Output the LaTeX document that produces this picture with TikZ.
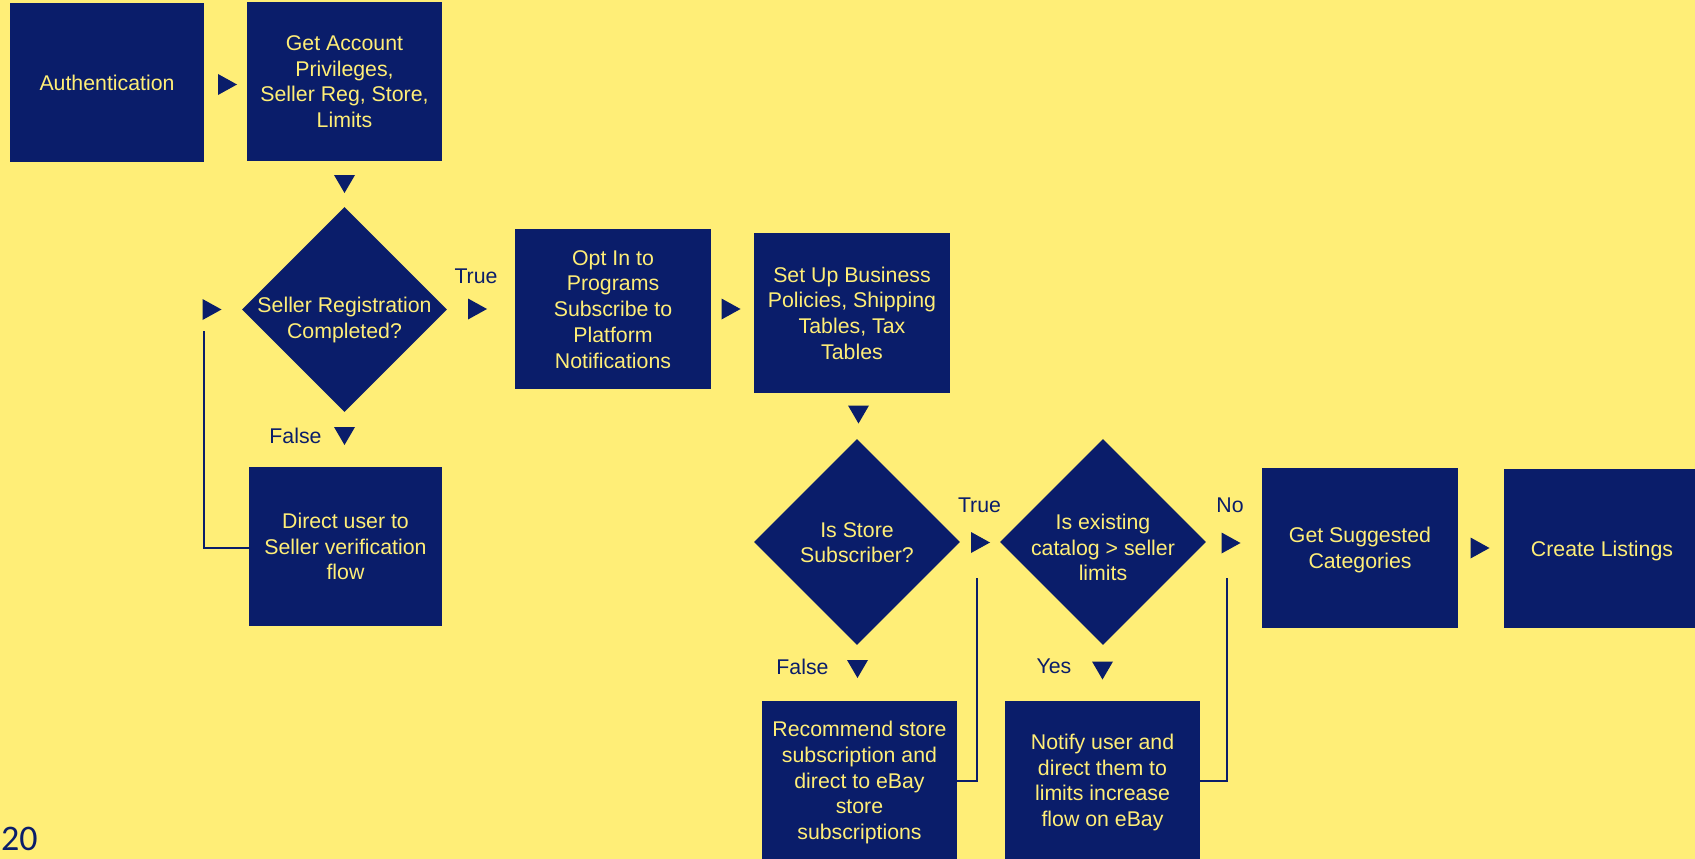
\documentclass[tikz,border=0pt]{standalone}
\usepackage{fontspec}
\setmainfont{Liberation Sans}
\newfontfamily\numfont{Carlito}
\usetikzlibrary{shapes.geometric}
\definecolor{navy}{RGB}{10,29,106}
\definecolor{bgy}{RGB}{255,238,119}
\newcommand{\bodyfont}{\fontsize{21.3}{25.7}\selectfont}
% uniform line box: cap-height/baseline block centred on the node
\newcommand{\T}[1]{\rule{0pt}{21.25pt}#1\rule[-6pt]{0pt}{6pt}}
\begin{document}
\begin{tikzpicture}[x=1pt,y=-1pt,
  box/.style={rectangle, fill=navy, text=bgy, inner sep=0pt, align=center, font=\bodyfont},
  dia/.style={diamond, fill=navy, inner sep=0pt, minimum width=205pt, minimum height=205pt},
  dtext/.style={text=bgy, align=center, font=\bodyfont, inner sep=0pt},
  lab/.style={text=navy, font=\bodyfont, inner sep=0pt},
  conn/.style={draw=navy, line width=2pt},
  rtri/.pic={\fill[navy] (-9.5,-10.5) -- (9.5,0) -- (-9.5,10.5) -- cycle;},
  dtri/.pic={\fill[navy] (-10.5,-9) -- (10.5,-9) -- (0,9) -- cycle;}
]
\useasboundingbox (0,0) rectangle (1695,859);
\fill[bgy] (0,0) rectangle (1695,859);
\clip (0,0) rectangle (1695,859);

% boxes
\node[box, minimum width=194pt, minimum height=159pt] (auth) at (107,82.5) {\T{Authentication}};
\node[box, minimum width=195pt, minimum height=159pt] (acct) at (344.5,81.5) {\T{Get Account\\Privileges,\\Seller Reg, Store,\\Limits}};
\node[dia, label={[dtext, yshift=-8.5pt]center:{\T{Seller Registration\\Completed?}}}] (d1) at (344.5,309.5) {};
\node[box, minimum width=196pt, minimum height=160pt] (opt) at (613,309) {\T{Opt In to\\Programs\\Subscribe to\\Platform\\Notifications}};
\node[box, minimum width=196pt, minimum height=160pt] (setup) at (852,313) {\T{Set Up Business\\Policies, Shipping\\Tables, Tax\\Tables}};
\node[box, minimum width=193pt, minimum height=159pt] (direct) at (345.5,546.5) {\T{Direct user to\\Seller verification\\flow}};
\node[dia, minimum width=206pt, minimum height=206pt, label={[dtext, yshift=-0.5pt]center:{\T{Is Store\\Subscriber?}}}] (d2) at (857,542) {};
\node[dia, minimum width=206pt, minimum height=206pt, label={[dtext, yshift=-5.5pt]center:{\T{Is existing\\catalog > seller\\limits}}}] (d3) at (1103,542) {};
\node[box, minimum width=196pt, minimum height=160pt] (sugg) at (1360,548) {\T{Get Suggested\\Categories}};
\node[box, minimum width=196pt, minimum height=159pt] (create) at (1602,548.5) {\T{Create Listings}};
\node[box, minimum width=195pt, minimum height=159pt] (rec) at (859.5,780.5) {\T{Recommend store\\subscription and\\direct to eBay\\store\\subscriptions}};
\node[box, minimum width=195pt, minimum height=159pt] (notify) at (1102.5,780.5) {\T{Notify user and\\direct them to\\limits increase\\flow on eBay}};

% flow triangles
\pic at (227.5,84.5) {rtri};
\pic at (344.5,184) {dtri};
\pic at (477.5,309) {rtri};
\pic at (731,309) {rtri};
\pic at (858.5,414.5) {dtri};
\pic at (980.5,542.5) {rtri};
\pic at (1231,543) {rtri};
\pic at (1480,548) {rtri};
\pic at (344.5,436) {dtri};
\pic at (857.5,669) {dtri};
\pic at (1102.5,670.5) {dtri};
\pic at (212,309.5) {rtri};

% labels
\node[lab] (t1) at (476,275.5) {\T{True}};
\node[lab] (f1) at (295.5,435.5) {\T{False}};
\node[lab] (t2) at (979.5,504.5) {\T{True}};
\node[lab] (no) at (1230,504.5) {\T{No}};
\node[lab] (f2) at (802.5,666.5) {\T{False}};
\node[lab] (yes) at (1054,665.5) {\T{Yes}};

% loop-back connectors
\coordinate (l1) at (204,331);
\coordinate (l2) at (977,578);
\coordinate (l3) at (1227,578);
\draw[conn] (direct.west |- 0,548) -| (l1);
\draw[conn] (rec.east |- 0,781) -| (l2);
\draw[conn] (notify.east |- 0,781) -| (l3);

% page number
\node[anchor=base west, inner sep=0pt, text=navy, font=\numfont\fontsize{36}{40}\selectfont] (pg) at (1,850) {20};
\end{tikzpicture}
\end{document}
